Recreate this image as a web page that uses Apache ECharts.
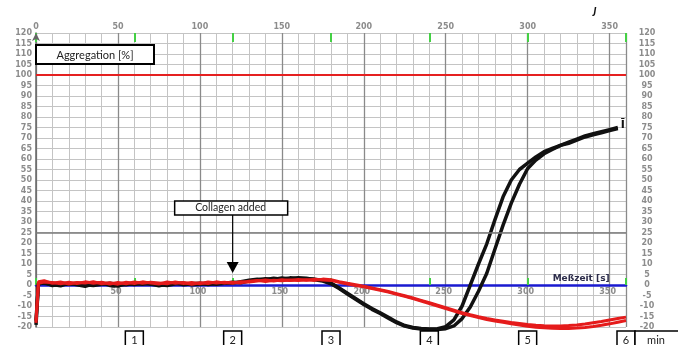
<!DOCTYPE html>
<html>
<head>
<meta charset="utf-8">
<script src="https://cdn.jsdelivr.net/npm/echarts@6/dist/echarts.min.js"></script>
<style>html,body{margin:0;padding:0;background:#fff;}#c{width:678px;height:345px;}</style>
</head>
<body>
<div id="c"></div>
<script>
// time in seconds
const times = [0,1.5,5,10,15,20,25,30,35,40,45,50,55,60,65,70,75,80,85,90,95,100,105,110,115,120,125,130,135,140,145,150,155,160,165,170,175,180,185,190,195,200,205,210,215,220,225,230,235,240,245,250,255,260,265,270,275,280,285,290,295,300,305,310,315,320,325,330,335,340,345,350,355,360];
// aggregation [%]
const black1 = [-19,0.8,0.8,0.2,-0.4,0.9,0.1,-0.6,0.6,1.0,-0.2,-0.5,0.7,0.2,0.9,0.4,-0.4,0.5,1.0,0.1,0.6,0.8,0.2,0.7,1.1,0.9,1.6,2.3,2.8,2.5,3.2,2.8,3.4,3.1,2.9,2.8,2.2,0.9,-1.4,-3.9,-6.4,-8.9,-11.2,-13.2,-15.4,-17.6,-19.3,-20.2,-20.7,-20.9,-20.8,-19.8,-16.6,-10,0,10,19.5,31,42,50,55,58,61,63.5,65,66.5,68,69.5,71,72,73,74,75,null];
const black2 = [-17,0.5,1.2,-0.3,0.5,0.3,0.8,0.1,-0.3,0.4,0.8,0.2,0.1,0.8,0.3,1.0,0.2,-0.2,0.6,0.9,0.1,0.4,0.9,0.3,0.8,1.3,1.1,1.9,2.4,3.0,2.6,3.3,2.9,3.4,3.2,2.5,1.9,0.6,-1.7,-4.3,-6.8,-9.3,-11.6,-13.6,-15.8,-17.9,-19.6,-20.5,-21,-21.2,-21.2,-20.8,-19.5,-16,-10.5,-3,5.5,17,28.5,39,48,55.5,59.5,62.5,64.5,66.5,67.5,69,70.5,71.5,72.5,73.5,74.5,null];
const red1 = [-17,1.5,2.0,0.8,1.4,0.5,1.2,0.9,1.6,0.6,1.1,0.4,1.3,0.7,1.5,0.9,0.5,1.4,0.8,1.2,0.4,1.1,0.7,1.5,0.9,1.3,1.0,1.8,2.2,1.7,2.3,2.0,2.4,2.1,2.5,2.2,2.8,2.5,1.6,0.8,0.1,-0.6,-1.4,-2.2,-3.1,-4.1,-5.1,-6.2,-7.3,-8.4,-9.6,-10.8,-12,-13.2,-14.2,-15.1,-15.9,-16.6,-17.2,-17.8,-18.3,-18.8,-19.2,-19.4,-19.5,-19.5,-19.3,-19.0,-18.6,-18.0,-17.4,-16.7,-16.0,-15.3];
const red2 = [-18,0.8,1.4,1.2,0.6,1.3,0.7,1.5,0.8,1.3,0.5,1.2,0.6,1.4,0.8,1.3,1.0,0.6,1.5,0.7,1.2,0.6,1.4,0.9,1.3,0.8,1.6,1.4,1.9,2.4,1.9,2.5,2.1,2.6,2.3,2.7,2.4,2.2,1.3,0.5,-0.2,-0.9,-1.7,-2.5,-3.4,-4.4,-5.4,-6.5,-7.6,-8.8,-10,-11.2,-12.4,-13.6,-14.6,-15.5,-16.4,-17.1,-17.8,-18.5,-19.1,-19.7,-20.1,-20.4,-20.6,-20.7,-20.7,-20.5,-20.2,-19.8,-19.2,-18.5,-17.7,-16.9];
const minuteMarks = [1,2,3,4,5,6];
const zeroLineLabels = [50,100,150,200,250,300,350];
const collagenTime = 120;
const maxLine = 100;
const refLine = 25;

const pair = arr => times.map((t,i)=>[t,arr[i]]);
const chart = echarts.init(document.getElementById('c'));
const lblStyle = {color:'#8c8c8c', fontSize:8, fontWeight:'bold', fontFamily:'DejaVu Sans'};
const grid = {left:36, right:52, top:33, bottom:18};

chart.setOption({
  animation:false,
  grid: grid,
  xAxis: [
    {type:'value', position:'top', min:0, max:360, interval:10,
     axisLine:{show:false, onZero:false}, axisTick:{show:false},
     axisLabel:Object.assign({margin:2, formatter:v=> (v%50===0 && v<360)? String(v):''}, lblStyle),
     splitLine:{show:true, lineStyle:{color:'#c4c4c4', width:1}}},
    {type:'value', position:'bottom', min:0, max:360, interval:50,
     axisLine:{show:true, onZero:true, onZeroAxisIndex:0, lineStyle:{color:'#1a1ad0', width:2.5}},
     axisTick:{show:false}, axisLabel:{show:false},
     splitLine:{show:true, lineStyle:{color:'#8a8a8a', width:1.3}}},
    {type:'value', position:'top', min:0, max:360, interval:60,
     axisLine:{show:false, onZero:false}, axisLabel:{show:false}, splitLine:{show:false},
     axisTick:{show:true, inside:true, length:9, lineStyle:{color:'#44d044', width:2}}},
    {type:'value', position:'bottom', min:0, max:360, interval:60,
     axisLine:{show:true, onZero:true, onZeroAxisIndex:1, lineStyle:{opacity:0}}, axisLabel:{show:false}, splitLine:{show:false},
     axisTick:{show:true, inside:true, length:7, lineStyle:{color:'#44d044', width:2}}}
  ],
  yAxis: [
    {type:'value', position:'left', min:-20, max:120, interval:5,
     axisLine:{show:true, onZero:false, symbol:['none','arrow'], symbolSize:[6,8], lineStyle:{color:'#666', width:1.5}},
     axisTick:{show:false},
     axisLabel:Object.assign({margin:4, showMaxLabel:true, showMinLabel:true}, lblStyle),
     splitLine:{show:true, lineStyle:{color:'#c4c4c4', width:1}}},
    {type:'value', position:'right', min:-20, max:120, interval:5,
     axisLine:{show:false, onZero:false}, axisTick:{show:false},
     axisLabel:Object.assign({margin:21, align:'center'}, lblStyle),
     splitLine:{show:false}}
  ],
  series: [
    {type:'line', name:'black1', xAxisIndex:1, yAxisIndex:0, data:pair(black1), showSymbol:false, clip:false,
     lineStyle:{color:'#111', width:3.5}, z:3,
     markLine:{silent:true, symbol:'none', label:{show:false}, lineStyle:{color:'#7a7a7a', width:1.5, type:'solid'}, data:[{yAxis:refLine}]}},
    {type:'line', name:'black2', xAxisIndex:1, yAxisIndex:0, data:pair(black2), showSymbol:false, clip:false,
     lineStyle:{color:'#111', width:3.5}, z:3},
    {type:'line', name:'red1', xAxisIndex:1, yAxisIndex:0, data:pair(red1), showSymbol:false, clip:false,
     lineStyle:{color:'#e51b1b', width:3}, z:4,
     markLine:{silent:true, symbol:'none', label:{show:false}, lineStyle:{color:'#e52020', width:2, type:'solid'}, data:[{yAxis:maxLine}]}},
    {type:'line', name:'red2', xAxisIndex:1, yAxisIndex:0, data:pair(red2), showSymbol:false, clip:false,
     lineStyle:{color:'#e51b1b', width:3}, z:4}
  ]
});

// annotations
const px = t => chart.convertToPixel({xAxisIndex:1}, t);
const py = v => chart.convertToPixel({yAxisIndex:0}, v);
const g = [];
const y0 = py(0);
zeroLineLabels.forEach(v=>{
  g.push({type:'text', x:px(v)-2, y:y0+3, style:{text:String(v), font:'bold 8px DejaVu Sans', fill:'#8c8c8c', align:'center', verticalAlign:'top'}, z:1});
});
const boxTop = 331;
minuteMarks.forEach(m=>{
  const x = px(m*60);
  g.push({type:'rect', shape:{x:x-9, y:boxTop, width:18, height:18}, style:{fill:'#fff', stroke:'#000', lineWidth:1.5}, z:10});
  g.push({type:'text', x:x, y:boxTop+9, style:{text:String(m), font:'11px Lato', fill:'#222', align:'center', verticalAlign:'middle'}, z:11});
});
const x6 = px(360);
g.push({type:'rect', shape:{x:x6+9, y:boxTop, width:60, height:18}, style:{fill:'#fff', stroke:'#000', lineWidth:1.5}, z:10});
g.push({type:'text', x:x6+30, y:boxTop+9, style:{text:'min', font:'11px Lato', fill:'#222', align:'center', verticalAlign:'middle'}, z:11});
// Aggregation label
g.push({type:'rect', shape:{x:36, y:45, width:118, height:19}, style:{fill:'#fff', stroke:'#000', lineWidth:2}, z:10});
g.push({type:'text', x:95, y:55, style:{text:'Aggregation [%]', font:'11px Lato', fill:'#222', align:'center', verticalAlign:'middle'}, z:11});
// Collagen added
const xc = px(collagenTime);
g.push({type:'rect', shape:{x:xc-58, y:201, width:113, height:14}, style:{fill:'#fff', stroke:'#000', lineWidth:1.5}, z:10});
g.push({type:'text', x:xc-2, y:208, style:{text:'Collagen added', font:'10.5px Lato', fill:'#222', align:'center', verticalAlign:'middle'}, z:11});
g.push({type:'line', shape:{x1:xc, y1:215, x2:xc, y2:263}, style:{stroke:'#000', lineWidth:1.2}, z:10});
g.push({type:'polygon', shape:{points:[[xc-6,262],[xc+6,262],[xc,273]]}, style:{fill:'#000'}, z:10});
// x axis name on zero line
g.push({type:'text', x:px(350), y:y0-6, style:{text:'Meßzeit [s]', font:'bold 9px DejaVu Sans', fill:'#2c2c4a', align:'right', verticalAlign:'middle'}, z:11});
// curve end mark and top glyph
g.push({type:'text', x:px(358), y:py(76), style:{text:'Ī', font:'bold 11px DejaVu Sans', fill:'#111', align:'center', verticalAlign:'middle'}, z:11});
g.push({type:'text', x:595, y:12, style:{text:'J', font:'italic bold 8px DejaVu Sans', fill:'#111', align:'center', verticalAlign:'middle'}, z:11});
chart.setOption({graphic:g});
</script>
</body>
</html>
